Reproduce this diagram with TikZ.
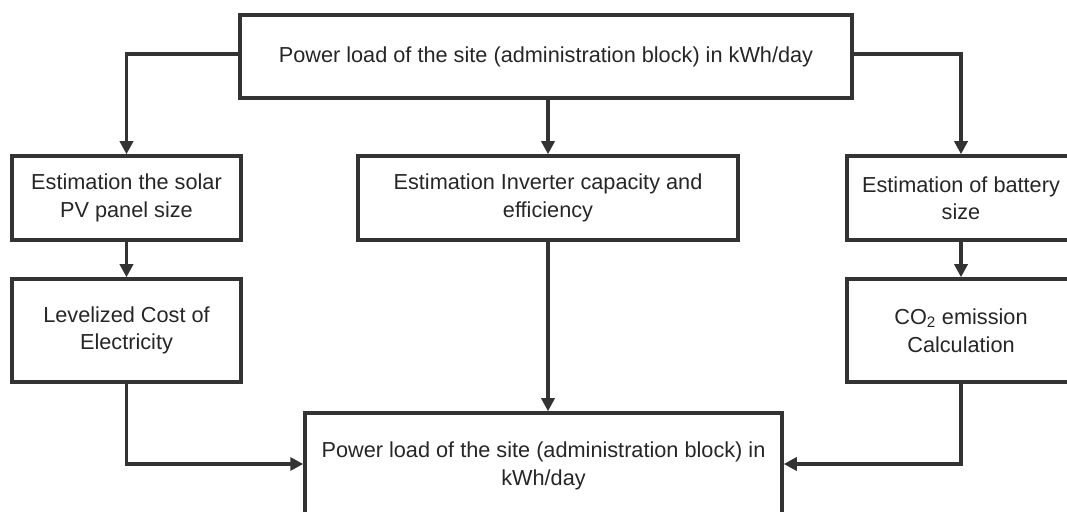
\documentclass[tikz,border=0pt]{standalone}
\usepackage{fontspec}
\setmainfont{Liberation Sans}
\usepackage{tikz}
\usetikzlibrary{positioning,calc,arrows.meta}
\definecolor{linegray}{HTML}{333333}
\tikzset{>={Triangle[length=13pt,width=13pt]}}
\tikzset{
  stepbox/.style={draw=linegray,line width=3.5pt,align=center,inner sep=0pt,
    font=\fontsize{21.7}{27.5}\selectfont,text=black!85},
  link/.style={draw=linegray,line width=3.5pt}
}

\begin{document}
\begin{tikzpicture}[x=1pt,y=1pt]
% Page of 1067 by 511
\useasboundingbox (0,0) rectangle (1067,511);
\clip (0,0) rectangle (1067,511);

% Boxes
\node[stepbox,minimum width=612,minimum height=83] (load) at (546,454.5)
  {Power load of the site (administration block) in kWh/day};
\node[stepbox,minimum width=229,minimum height=84] (solar) at (126.5,313)
  {Estimation the solar\\PV panel size};
\node[stepbox,minimum width=380,minimum height=84] (inverter) at (548,313)
  {Estimation Inverter capacity and\\efficiency};
\node[stepbox,minimum width=228,minimum height=84] (battery) at (961,313)
  {Estimation of battery\\size};
\node[stepbox,minimum width=229,minimum height=103] (lcoe) at (126.5,180.5)
  {Levelized Cost of\\Electricity};
\node[stepbox,minimum width=228,minimum height=103] (co2) at (961,180.5)
  {CO\textsubscript{2} emission\\Calculation};
\node[stepbox,minimum width=477,minimum height=106] (result) at (543.5,45)
  {Power load of the site (administration block) in\\kWh/day};

% Corner points of the connectors
\coordinate (tl) at (solar.north |- 0,457);
\coordinate (tr) at (battery.north |- 0,457);
\coordinate (bl) at (lcoe.south |- 0,47);
\coordinate (br) at (co2.south |- 0,47);

% Draw connectors from the top box
\draw[link,->] (load.west |- tl) -- (tl) -- (solar.north);
\draw[link,->] (load.east |- tr) -- (tr) -- (battery.north);
\draw[link,->] (load.south -| inverter.north) -- (inverter.north);

% Draw connectors down the sides
\draw[link,->] (solar) -- (lcoe);
\draw[link,->] (battery) -- (co2);

% Draw connectors into the bottom box
\draw[link,->] (lcoe.south) -- (bl) -- (result.west |- bl);
\draw[link,->] (co2.south) -- (br) -- (result.east |- br);
\draw[link,->] (inverter.south) -- (inverter.south |- result.north);
\end{tikzpicture}
\end{document}
